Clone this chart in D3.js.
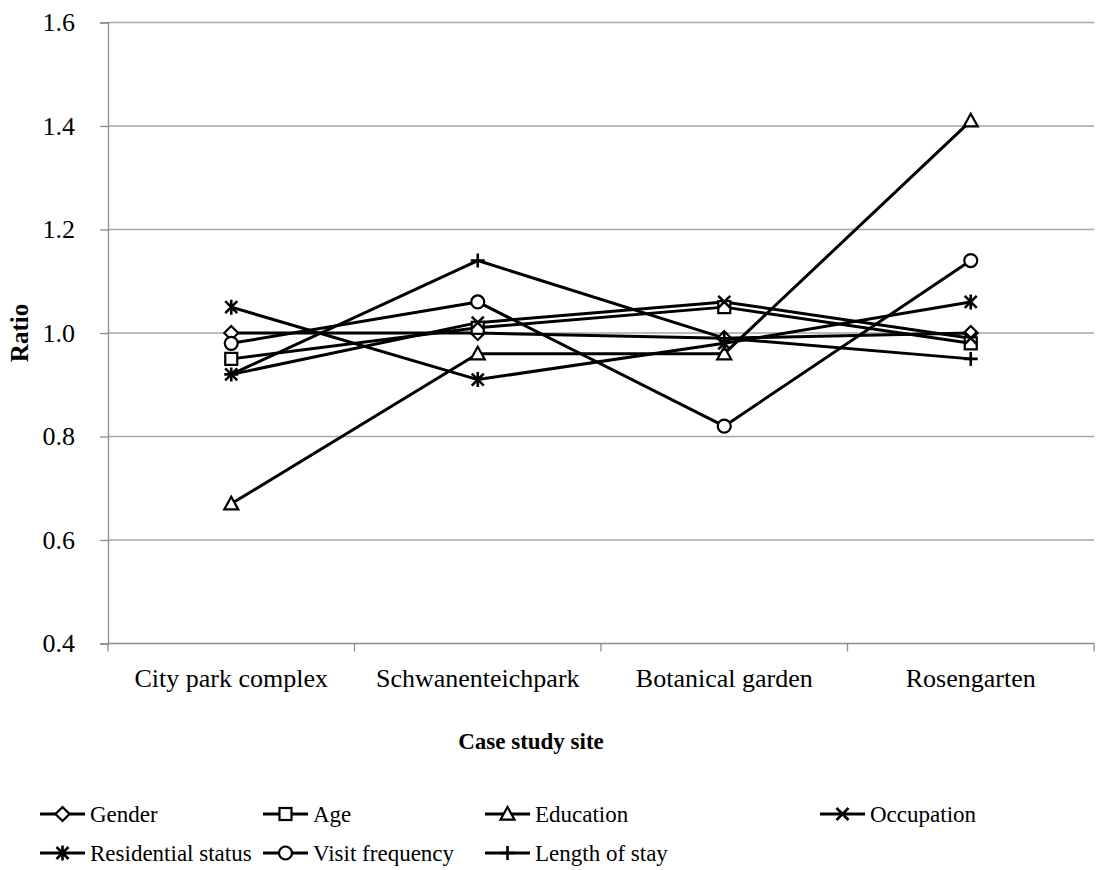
<!DOCTYPE html>
<html>
<head>
<meta charset="utf-8">
<script src="https://cdn.jsdelivr.net/npm/d3@7"></script>
<style>
  html, body { margin: 0; padding: 0; background: #fff; }
  svg text { font-family: "Liberation Serif", "Times New Roman", serif; fill: #000; }
</style>
</head>
<body>
<svg id="chart" width="1102" height="870"></svg>
<script>
// Case study sites along the x axis
const sites = ["City park complex", "Schwanenteichpark", "Botanical garden", "Rosengarten"];

// Ratio per variable at each site
const gender       = [1.00, 1.00, 0.99, 1.00];
const age          = [0.95, 1.01, 1.05, 0.98];
const education    = [0.67, 0.96, 0.96, 1.41];
const occupation   = [0.92, 1.02, 1.06, 0.99];
const residential  = [1.05, 0.91, 0.98, 1.06];
const visitFreq    = [0.98, 1.06, 0.82, 1.14];
const lengthOfStay = [0.92, 1.14, 0.99, 0.95];

const seriesNames   = ["Gender", "Age", "Education", "Occupation", "Residential status", "Visit frequency", "Length of stay"];
const seriesMarkers = ["diamond", "square", "triangle", "x", "star", "circle", "plus"];
const seriesValues  = [gender, age, education, occupation, residential, visitFreq, lengthOfStay];

const yTicks = [0.4, 0.6, 0.8, 1.0, 1.2, 1.4, 1.6];

const series = seriesNames.map((name, i) => ({ name, marker: seriesMarkers[i], values: seriesValues[i] }));

const svg = d3.select("#chart");
const plot = { left: 108, right: 1094, top: 22.5, bottom: 643.5 };

const x = d3.scaleBand().domain(sites).range([plot.left, plot.right]);
const y = d3.scaleLinear().domain([0.4, 1.6]).range([plot.bottom, plot.top]);

// Horizontal gridlines
svg.append("g")
  .selectAll("line")
  .data(yTicks.filter(t => t > 0.4))
  .join("line")
  .attr("x1", plot.left).attr("x2", plot.right)
  .attr("y1", d => y(d)).attr("y2", d => y(d))
  .attr("stroke", "#a6a6a6").attr("stroke-width", 1.3);

// Y axis
const yAxis = svg.append("g")
  .attr("transform", `translate(${plot.left},0)`)
  .call(d3.axisLeft(y).tickValues(yTicks).tickFormat(d3.format(".1f")).tickSize(8).tickPadding(25));
yAxis.select(".domain").attr("stroke", "#8c8c8c").attr("stroke-width", 1.3);
yAxis.selectAll(".tick line").attr("stroke", "#8c8c8c").attr("stroke-width", 1.3);
yAxis.selectAll(".tick text").style("font-size", "26px").style("font-family", "Liberation Serif").attr("fill", "#000");

// X axis with ticks between categories
const xAxisG = svg.append("g").attr("transform", `translate(0,${plot.bottom})`);
xAxisG.append("line")
  .attr("x1", plot.left).attr("x2", plot.right)
  .attr("stroke", "#8c8c8c").attr("stroke-width", 1.3);
const boundaries = sites.map(s => x(s)).concat([x(sites[sites.length - 1]) + x.bandwidth()]);
xAxisG.selectAll("line.tk")
  .data(boundaries)
  .join("line").attr("class", "tk")
  .attr("x1", d => d).attr("x2", d => d)
  .attr("y1", 0).attr("y2", 8)
  .attr("stroke", "#8c8c8c").attr("stroke-width", 1.3);
xAxisG.selectAll("text")
  .data(sites)
  .join("text")
  .attr("x", d => x(d) + x.bandwidth() / 2)
  .attr("y", 43)
  .attr("text-anchor", "middle")
  .style("font-size", "26px")
  .text(d => d);

// Axis titles
svg.append("text")
  .attr("x", 531).attr("y", 749)
  .attr("text-anchor", "middle")
  .style("font-size", "23px").style("font-weight", "bold")
  .text("Case study site");
svg.append("text")
  .attr("transform", `translate(28,${(plot.top + plot.bottom) / 2}) rotate(-90)`)
  .attr("text-anchor", "middle")
  .style("font-size", "25px").style("font-weight", "bold")
  .text("Ratio");

// Marker drawing
function drawMarker(g, type, cx, cy) {
  const stroke = "#000", sw = 2.2;
  if (type === "diamond") {
    const s = 7;
    g.append("path").attr("d", `M${cx},${cy - s}L${cx + s},${cy}L${cx},${cy + s}L${cx - s},${cy}Z`)
      .attr("fill", "#fff").attr("stroke", stroke).attr("stroke-width", sw);
  } else if (type === "square") {
    const s = 6;
    g.append("rect").attr("x", cx - s).attr("y", cy - s).attr("width", 2 * s).attr("height", 2 * s)
      .attr("fill", "#fff").attr("stroke", stroke).attr("stroke-width", sw);
  } else if (type === "triangle") {
    const s = 7;
    g.append("path").attr("d", `M${cx},${cy - s}L${cx + s},${cy + s * 0.8}L${cx - s},${cy + s * 0.8}Z`)
      .attr("fill", "#fff").attr("stroke", stroke).attr("stroke-width", sw);
  } else if (type === "circle") {
    g.append("circle").attr("cx", cx).attr("cy", cy).attr("r", 6.5)
      .attr("fill", "#fff").attr("stroke", stroke).attr("stroke-width", sw);
  } else if (type === "x") {
    const s = 6;
    g.append("path").attr("d", `M${cx - s},${cy - s}L${cx + s},${cy + s}M${cx - s},${cy + s}L${cx + s},${cy - s}`)
      .attr("stroke", stroke).attr("stroke-width", sw + 0.4);
  } else if (type === "star") {
    const s = 6;
    g.append("path").attr("d", `M${cx - s},${cy - s}L${cx + s},${cy + s}M${cx - s},${cy + s}L${cx + s},${cy - s}M${cx},${cy - s - 1.5}L${cx},${cy + s + 1.5}`)
      .attr("stroke", stroke).attr("stroke-width", sw + 0.4);
  } else if (type === "plus") {
    const s = 7;
    g.append("path").attr("d", `M${cx - s},${cy}L${cx + s},${cy}M${cx},${cy - s}L${cx},${cy + s}`)
      .attr("stroke", stroke).attr("stroke-width", sw + 0.4);
  }
}

// Series lines and markers
const line = d3.line()
  .x((d, i) => x(sites[i]) + x.bandwidth() / 2)
  .y(d => y(d));

const seriesG = svg.append("g");
series.forEach(s => {
  seriesG.append("path")
    .attr("d", line(s.values))
    .attr("fill", "none").attr("stroke", "#000").attr("stroke-width", 3)
    .attr("stroke-linejoin", "round");
});
series.forEach(s => {
  const g = seriesG.append("g");
  s.values.forEach((v, i) => drawMarker(g, s.marker, x(sites[i]) + x.bandwidth() / 2, y(v)));
});

// Legend
const legendCols = [40, 263, 485, 820];
const legendRows = [814, 853];
const legendLayout = [[0, 0], [1, 0], [2, 0], [3, 0], [0, 1], [1, 1], [2, 1]];
series.forEach((s, i) => {
  const [c, r] = legendLayout[i];
  const lx = legendCols[c], ly = legendRows[r];
  const g = svg.append("g");
  g.append("line").attr("x1", lx).attr("x2", lx + 45).attr("y1", ly).attr("y2", ly)
    .attr("stroke", "#000").attr("stroke-width", 3);
  drawMarker(g, s.marker, lx + 22.5, ly);
  g.append("text").attr("x", lx + 50).attr("y", ly + 8)
    .style("font-size", "23px").text(s.name);
});
</script>
</body>
</html>
